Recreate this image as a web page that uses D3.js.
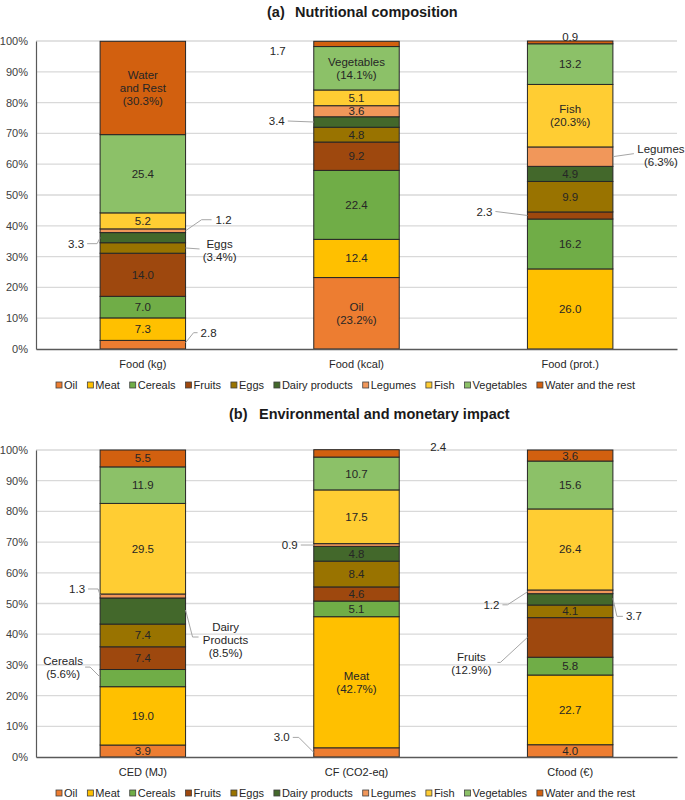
<!DOCTYPE html>
<html>
<head>
<meta charset="utf-8">
<script src="https://cdn.jsdelivr.net/npm/d3@7"></script>
<style>
  body { margin: 0; background: #fff; }
  svg { display: block; font-family: "Liberation Sans", Arial, sans-serif; }
</style>
</head>
<body>
<svg id="chart" width="685" height="800"></svg>
<script>
// ---------- DATA ----------
const seriesNames = ["Oil", "Meat", "Cereals", "Fruits", "Eggs", "Dairy products", "Legumes", "Fish", "Vegetables", "Water and the rest"];
const seriesColors = ["#ED7D31", "#FFC000", "#70AD47", "#9E480E", "#997300", "#43682B", "#F1975A", "#FFCD33", "#8CC168", "#D2600F"];

const catsA = ["Food (kg)", "Food (kcal)", "Food (prot.)"];
const foodKg   = [2.8, 7.3, 7.0, 14.0, 3.4, 3.3, 1.2, 5.2, 25.4, 30.3];
const foodKcal = [23.2, 12.4, 22.4, 9.2, 4.8, 3.4, 3.6, 5.1, 14.1, 1.7];
const foodProt = [0.0, 26.0, 16.2, 2.3, 9.9, 4.9, 6.3, 20.3, 13.2, 0.9];

const catsB = ["CED (MJ)", "CF (CO2-eq)", "Cfood (€)"];
const ced   = [3.9, 19.0, 5.6, 7.4, 7.4, 8.5, 1.3, 29.5, 11.9, 5.5];
const cf    = [3.0, 42.7, 5.1, 4.6, 8.4, 4.8, 0.9, 17.5, 10.7, 2.4];
const cfood = [4.0, 22.7, 5.8, 12.9, 4.1, 3.7, 1.2, 26.4, 15.6, 3.6];

const yTicks = [0, 10, 20, 30, 40, 50, 60, 70, 80, 90, 100];

// Label names used in annotations
const namedLabels = {
  "Water and the rest": ["Water", "and Rest"],
  "Vegetables": ["Vegetables"],
  "Oil": ["Oil"],
  "Fish": ["Fish"],
  "Legumes": ["Legumes"],
  "Eggs": ["Eggs"],
  "Dairy products": ["Dairy", "Products"],
  "Cereals": ["Cereals"],
  "Meat": ["Meat"],
  "Fruits": ["Fruits"]
};

// ---------- ANNOTATION LAYOUT (offsets in px from bar edge / segment middle) ----------
// mode: "none" no label, "named" = name + (pct) inside, "out" = value outside, "outNamed" = name + (pct) outside
const annotA = [
  { cat: 0, s: "Oil", mode: "out", side: "right", line: [[0,-2],[8,-12],[12,-12]], text: [15,-12], anchor: "start" },
  { cat: 0, s: "Eggs", mode: "outNamed", side: "right", line: [[0,0],[14,1]], text: [34,2], anchor: "middle" },
  { cat: 0, s: "Dairy products", mode: "out", side: "left", line: [[0,0],[-3,6],[-13,6]], text: [-16,6], anchor: "end" },
  { cat: 0, s: "Legumes", mode: "out", side: "right", line: [[0,0],[16,-11],[26,-11]], text: [30,-11], anchor: "start" },
  { cat: 0, s: "Water and the rest", mode: "named" },
  { cat: 1, s: "Oil", mode: "named" },
  { cat: 1, s: "Dairy products", mode: "out", side: "left", line: [[0,0],[-26,-1]], text: [-29,-1], anchor: "end" },
  { cat: 1, s: "Vegetables", mode: "named" },
  { cat: 1, s: "Water and the rest", mode: "out", side: "left", line: null, text: [-36,7], anchor: "middle" },
  { cat: 2, s: "Oil", mode: "none" },
  { cat: 2, s: "Fruits", mode: "out", side: "left", line: [[0,0],[-32,-4]], text: [-35,-4], anchor: "end" },
  { cat: 2, s: "Legumes", mode: "outNamed", side: "right", line: [[0,0],[21,-3]], text: [48,-1], anchor: "middle" },
  { cat: 2, s: "Fish", mode: "named" },
  { cat: 2, s: "Water and the rest", mode: "out", side: "center", line: null, text: [0,-5], anchor: "middle" }
];
const annotB = [
  { cat: 0, s: "Cereals", mode: "outNamed", side: "left", line: [[0,-1],[-10,-11],[-15,-11]], text: [-37,-11], anchor: "middle" },
  { cat: 0, s: "Dairy products", mode: "outNamed", side: "right", line: [[0,-1],[7,26],[13,26]], text: [40,29], anchor: "middle" },
  { cat: 0, s: "Legumes", mode: "out", side: "left", line: [[0,-1],[-2,-7],[-12,-7]], text: [-15,-7], anchor: "end" },
  { cat: 1, s: "Oil", mode: "out", side: "left", line: [[0,0],[-15,-15],[-21,-15]], text: [-24,-15], anchor: "end" },
  { cat: 1, s: "Meat", mode: "named" },
  { cat: 1, s: "Legumes", mode: "out", side: "left", line: [[0,0],[-13,0]], text: [-16,0], anchor: "end" },
  { cat: 1, s: "Water and the rest", mode: "out", side: "right", line: null, text: [39,-6], anchor: "middle" },
  { cat: 2, s: "Fruits", mode: "outNamed", side: "left", line: [[0,0],[-27,25],[-30,25]], text: [-56,26], anchor: "middle" },
  { cat: 2, s: "Dairy products", mode: "out", side: "right", line: [[0,-1],[4,17],[10,17]], text: [13,17], anchor: "start" },
  { cat: 2, s: "Legumes", mode: "out", side: "left", line: [[0,0],[-20,13],[-25,13]], text: [-28,13], anchor: "end" }
];

// ---------- DRAW ----------
const svg = d3.select("#chart");
const fmt = d3.format(".1f");
const color = d3.scaleOrdinal().domain(seriesNames).range(seriesColors);
const textCol = "#262626";

function drawPanel(cfg) {
  const { top, bottom, left, right, cats, rows, annots, titleTag, titleText, titleX, titleRestX, titleY, xLabelY, legendY } = cfg;
  const g = svg.append("g");

  const x = d3.scaleBand().domain(cats).range([left, right]).paddingInner(0.6).paddingOuter(0.3);
  const y = d3.scaleLinear().domain([0, 100]).range([bottom, top]);

  // title
  const t = g.append("text").attr("y", titleY).attr("font-size", 14.5).attr("font-weight", "bold").attr("fill", "#1a1a1a");
  t.append("tspan").attr("x", titleX).text(titleTag);
  t.append("tspan").attr("x", titleRestX).text(titleText);

  // gridlines
  g.append("g").selectAll("line").data(yTicks.filter(d => d > 0)).join("line")
    .attr("x1", left).attr("x2", right)
    .attr("y1", d => y(d)).attr("y2", d => y(d))
    .attr("stroke", "#d9d9d9").attr("stroke-width", 1.3);

  // y axis
  const yAxis = d3.axisLeft(y).tickValues(yTicks).tickFormat(d => d + "%").tickSize(0).tickPadding(8);
  const ya = g.append("g").attr("transform", `translate(${left},0)`).call(yAxis);
  ya.select(".domain").attr("stroke", "#595959").attr("stroke-width", 1.2);
  ya.selectAll("text").attr("font-size", 11).attr("fill", "#404040").attr("font-family", "Liberation Sans, Arial, sans-serif");

  // stacked data
  const data = cats.map((c, i) => {
    const o = { cat: c };
    seriesNames.forEach((s, j) => o[s] = rows[i][j]);
    return o;
  });
  const stacked = d3.stack().keys(seriesNames)(data);

  const layers = g.append("g").selectAll("g").data(stacked).join("g")
    .attr("fill", d => color(d.key));
  layers.selectAll("rect").data(d => d.map(v => ({ key: d.key, v }))).join("rect")
    .attr("x", d => x(d.v.data.cat))
    .attr("width", x.bandwidth())
    .attr("y", d => y(d.v[1]))
    .attr("height", d => Math.max(0, y(d.v[0]) - y(d.v[1])))
    .attr("stroke", "#262626").attr("stroke-width", 1);

  // x axis
  const xa = g.append("g").attr("transform", `translate(0,${bottom})`)
    .call(d3.axisBottom(x).tickSize(0).tickPadding(10));
  xa.select(".domain").attr("stroke", "#595959").attr("stroke-width", 1.4);
  xa.selectAll("text").attr("font-size", 11).attr("fill", "#262626").attr("font-family", "Liberation Sans, Arial, sans-serif")
    .attr("y", xLabelY - bottom).attr("dy", "0.35em");

  // labels
  const lab = g.append("g").attr("font-size", 11.5).attr("fill", textCol);
  const lineH = 13;
  function multiText(xp, yc, lines, anchor) {
    const n = lines.length;
    const tt = lab.append("text").attr("text-anchor", anchor);
    lines.forEach((ln, k) => {
      tt.append("tspan").attr("x", xp).attr("y", yc + (k - (n - 1) / 2) * lineH).attr("dy", "0.35em").text(ln);
    });
  }
  stacked.forEach(layer => {
    layer.forEach((v, ci) => {
      const key = layer.key;
      const val = v[1] - v[0];
      const ann = annots.find(a => a.cat === ci && a.s === key);
      const x0 = x(v.data.cat), x1 = x0 + x.bandwidth(), xc = x0 + x.bandwidth() / 2;
      const ym = (y(v[0]) + y(v[1])) / 2;
      if (!ann) {
        multiText(xc, ym, [fmt(val)], "middle");
        return;
      }
      if (ann.mode === "none") return;
      if (ann.mode === "named") {
        multiText(xc, ym, [...namedLabels[key], "(" + fmt(val) + "%)"], "middle");
        return;
      }
      const ex = ann.side === "right" ? x1 : ann.side === "left" ? x0 : xc;
      if (ann.line) {
        lab.append("path")
          .attr("d", d3.line()(ann.line.map(p => [ex + p[0], ym + p[1]])))
          .attr("fill", "none").attr("stroke", "#a6a6a6").attr("stroke-width", 1);
      }
      const lines = ann.mode === "outNamed" ? [...namedLabels[key], "(" + fmt(val) + "%)"] : [fmt(val)];
      multiText(ex + ann.text[0], ym + ann.text[1], lines, ann.anchor);
    });
  });

  // legend
  const lg = g.append("g").attr("font-size", 11).attr("fill", "#262626");
  const items = seriesNames.map(s => {
    const it = lg.append("g");
    it.append("rect").attr("width", 6).attr("height", 6).attr("y", -3)
      .attr("fill", color(s)).attr("stroke", "#404040").attr("stroke-width", 0.8);
    it.append("text").attr("x", 8).attr("dy", "0.35em").text(s);
    return { it, w: 8 + it.select("text").node().getComputedTextLength() };
  });
  const span = cfg.legendRight - cfg.legendLeft;
  const gap = (span - d3.sum(items, d => d.w)) / (items.length - 1);
  let cx = cfg.legendLeft;
  items.forEach(d => { d.it.attr("transform", `translate(${cx},${legendY})`); cx += d.w + gap; });
}

drawPanel({
  top: 41, bottom: 349, left: 36, right: 677, cats: catsA,
  rows: [foodKg, foodKcal, foodProt], annots: annotA,
  titleTag: "(a)", titleText: "Nutritional composition", titleX: 267, titleRestX: 295, titleY: 17,
  xLabelY: 364, legendY: 385, legendLeft: 56, legendRight: 635
});
drawPanel({
  top: 450, bottom: 757, left: 36, right: 677, cats: catsB,
  rows: [ced, cf, cfood], annots: annotB,
  titleTag: "(b)", titleText: "Environmental and monetary impact", titleX: 229, titleRestX: 259, titleY: 419,
  xLabelY: 772, legendY: 793, legendLeft: 56, legendRight: 635
});
</script>
</body>
</html>
